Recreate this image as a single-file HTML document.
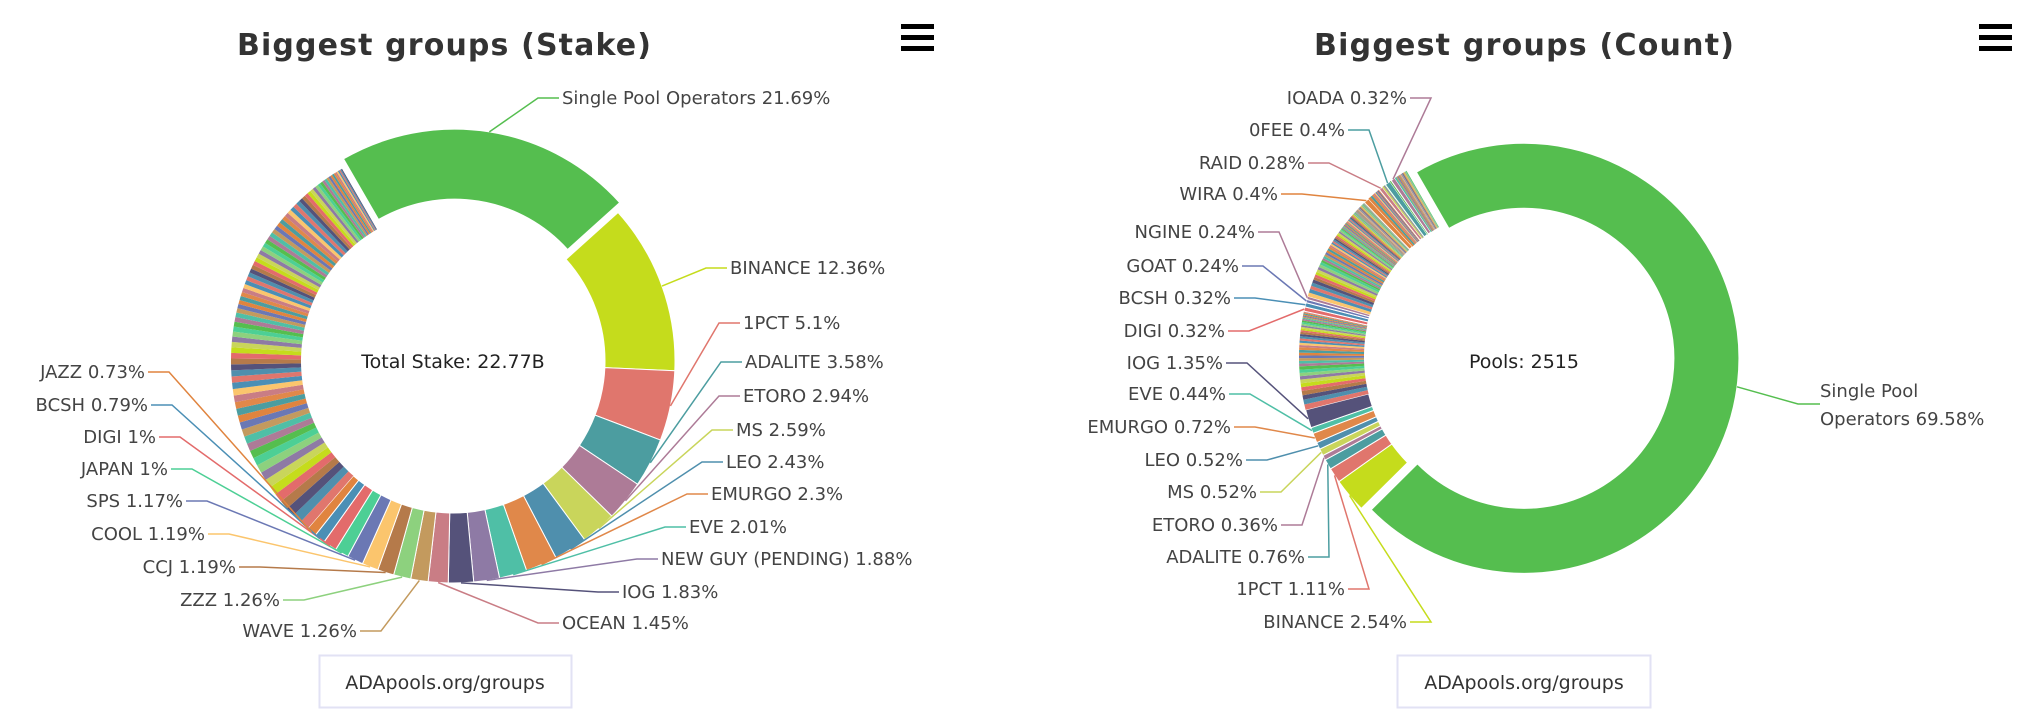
<!DOCTYPE html>
<html><head><meta charset="utf-8"><style>
html,body{margin:0;padding:0;background:#fff;}
svg{display:block;font-family:"DejaVu Sans","Liberation Sans",sans-serif;}
</style></head><body>
<svg id="s" width="2038" height="726" viewBox="0 0 2038 726" xmlns="http://www.w3.org/2000/svg">
<g>
<text x="444" y="55" text-anchor="middle" font-size="30" font-weight="bold" fill="#333" textLength="414">Biggest groups (Stake)</text>
<g><rect x="901" y="24" width="33" height="5" fill="#000"/><rect x="901" y="35" width="33" height="5" fill="#000"/><rect x="901" y="46" width="33" height="5" fill="#000"/></g>
<text x="453" y="368" text-anchor="middle" font-size="19" fill="#222">Total Stake: 22.77B</text>
<rect x="319.5" y="655.5" width="252" height="52" fill="#fff" stroke="#e2e2f4" stroke-width="2"/>
<text x="445" y="689" text-anchor="middle" font-size="19" fill="#333">ADApools.org/groups</text>
</g>
<g>
<text x="1524" y="55" text-anchor="middle" font-size="30" font-weight="bold" fill="#333" textLength="420">Biggest groups (Count)</text>
<g><rect x="1979" y="24" width="33" height="5" fill="#000"/><rect x="1979" y="35" width="33" height="5" fill="#000"/><rect x="1979" y="46" width="33" height="5" fill="#000"/></g>
<text x="1524" y="368" text-anchor="middle" font-size="19" fill="#222">Pools: 2515</text>
<rect x="1397.5" y="655.5" width="253" height="52" fill="#fff" stroke="#e2e2f4" stroke-width="2"/>
<text x="1524" y="689" text-anchor="middle" font-size="19" fill="#333">ADApools.org/groups</text>
</g>
</svg>
<script>
// ---- Stake chart data ----
const stakeNames = ["Single Pool Operators","BINANCE","1PCT","ADALITE","ETORO","MS","LEO","EMURGO","EVE","NEW GUY (PENDING)","IOG","OCEAN","WAVE","ZZZ","CCJ","COOL","SPS","JAPAN","DIGI","BCSH","JAZZ"];
const stakeValues = [21.69,12.36,5.1,3.58,2.94,2.59,2.43,2.3,2.01,1.88,1.83,1.45,1.26,1.26,1.19,1.19,1.17,1,1,0.79,0.73];
const stakeOthers = [0.7,0.69,0.68,0.66,0.65,0.63,0.62,0.61,0.6,0.58,0.57,0.56,0.55,0.54,0.52,0.51,0.5,0.49,0.48,0.47,0.46,0.45,0.44,0.43,0.42,0.41,0.4,0.39,0.38,0.37,0.36,0.35,0.34,0.33,0.32,0.31,0.3,0.3,0.3,0.3,0.3,0.3,0.3,0.3,0.3,0.3,0.3,0.3,0.3,0.3,0.3,0.3,0.3,0.3,0.3,0.3,0.3,0.3,0.3,0.3,0.3,0.3,0.3,0.3,0.29,0.28,0.27,0.26,0.25,0.24,0.23,0.22,0.21,0.2,0.19,0.18,0.17,0.16,0.15,0.14,0.13,0.12,0.11,0.1,0.09,0.08,0.07];
// ---- Count chart data ----
const countNamesA = ["Single Pool Operators","BINANCE","1PCT","ADALITE","ETORO","MS","LEO","EMURGO","EVE","IOG"];
const countValuesA = [69.58,2.54,1.11,0.76,0.36,0.52,0.52,0.72,0.44,1.35];
const countOthersA = [0.4,0.36,0.32,0.32,0.28,0.28,0.28,0.24,0.24,0.24,0.24,0.2,0.2,0.2,0.2,0.2,0.2,0.2,0.16,0.16,0.16,0.16,0.16,0.16,0.16,0.12,0.12,0.12,0.12,0.12,0.12,0.12,0.12,0.08,0.08,0.08,0.08,0.08,0.08,0.08];
const countNamesB = ["DIGI","BCSH","GOAT","NGINE"];
const countValuesB = [0.32,0.32,0.24,0.24];
const countOthersB = [0.28,0.28,0.24,0.24,0.24,0.2,0.2,0.2,0.2,0.2,0.2,0.2,0.16,0.16,0.16,0.16,0.16,0.16,0.16,0.16,0.12,0.12,0.12,0.12,0.12,0.12,0.12,0.12,0.12,0.12,0.12,0.12,0.08,0.08,0.08,0.08,0.08,0.08,0.08,0.08,0.08,0.08,0.08,0.08,0.08,0.08,0.08,0.08,0.08,0.08,0.04,0.04,0.04,0.04,0.04,0.04,0.04,0.04,0.04,0.04,0.04,0.04,0.04,0.04,0.04,0.04,0.04,0.04,0.04,0.04,0.04,0.04,0.04,0.04,0.04,0.04,0.04,0.04,0.04,0.04];
const countNamesC = ["WIRA"];
const countValuesC = [0.4];
const countOthersC = [0.2,0.16,0.12,0.12,0.08,0.08,0.08,0.04,0.04,0.04,0.04,0.04];
const countNamesD = ["RAID"];
const countValuesD = [0.28];
const countOthersD = [0.12,0.08,0.04,0.04];
const countNamesE = ["0FEE"];
const countValuesE = [0.4];
const countOthersE = [0.08,0.04];
const countNamesF = ["IOADA"];
const countValuesF = [0.32];
const countOthersF = [0.12,0.08,0.08,0.08,0.04,0.04,0.04,0.04,0.04,0.04,0.04,0.04,0.04,0.04,0.04,0.04,0.04,0.04,0.04,0.04];

const palette = ["#55be4f","#c5dc1c","#e0766d","#4c9da0","#ad7b97","#c9d55b","#4f8fad","#e0884a","#4fbfa6","#8e7aa5","#55527a","#c97d85","#c39a5e","#8dd17e","#b57a4a","#fbc56d","#6b78b4","#4dcf95","#e36b6b","#4b8fb5","#e0843f"];
const countColors = {"Single Pool Operators":"#55be4f","BINANCE":"#c5dc1c","1PCT":"#e0766d","ADALITE":"#4c9da0","ETORO":"#ad7b97","MS":"#c9d55b","LEO":"#4f8fad","EMURGO":"#e0884a","EVE":"#4fbfa6","IOG":"#55527a","DIGI":"#e36b6b","BCSH":"#4b8fb5","GOAT":"#6b78b4","NGINE":"#ad7b97","WIRA":"#e0843f","RAID":"#c97d85","0FEE":"#4c9da0","IOADA":"#ad7b97"};

// label layout (pixel positions, not data)
const stakeLabelPos = {"Single Pool Operators":[562,104,"s"],"BINANCE":[730,274,"s"],"1PCT":[743,329,"s"],"ADALITE":[745,368,"s"],"ETORO":[743,402,"s"],"MS":[736,436,"s"],"LEO":[726,468,"s"],"EMURGO":[711,500,"s"],"EVE":[689,533,"s"],"NEW GUY (PENDING)":[661,565,"s"],"IOG":[622,598,"s"],"OCEAN":[562,629,"s"],"WAVE":[357,637,"e"],"ZZZ":[280,606,"e"],"CCJ":[236,573,"e"],"COOL":[205,540,"e"],"SPS":[183,507,"e"],"JAPAN":[168,475,"e"],"DIGI":[156,443,"e"],"BCSH":[148,411,"e"],"JAZZ":[145,378,"e"]};
const countLabelPos = {"IOADA":[1407,104,"e"],"0FEE":[1345,136,"e"],"RAID":[1305,169,"e"],"WIRA":[1278,200,"e"],"NGINE":[1255,238,"e"],"GOAT":[1239,272,"e"],"BCSH":[1231,304,"e"],"DIGI":[1225,337,"e"],"IOG":[1223,369,"e"],"EVE":[1226,400,"e"],"EMURGO":[1231,433,"e"],"LEO":[1243,466,"e"],"MS":[1257,498,"e"],"ETORO":[1278,531,"e"],"ADALITE":[1305,563,"e"],"1PCT":[1345,595,"e"],"BINANCE":[1407,628,"e"]};

const NS="http://www.w3.org/2000/svg";
const svg=document.getElementById('s');
function pt(cx,cy,rad,a){const t=a*Math.PI/180;return [cx+rad*Math.sin(t),cy-rad*Math.cos(t)];}
function arcPath(cx,cy,R,r,a0,a1){
  const p0=pt(cx,cy,R,a0),p1=pt(cx,cy,R,a1),p2=pt(cx,cy,r,a1),p3=pt(cx,cy,r,a0);
  const lg=(a1-a0)>180?1:0;
  return `M${p0[0]},${p0[1]}A${R},${R} 0 ${lg} 1 ${p1[0]},${p1[1]}L${p2[0]},${p2[1]}A${r},${r} 0 ${lg} 0 ${p3[0]},${p3[1]}Z`;
}
function fmt(v){return String(v);}
function drawPie(items,cx,cy,R,r,start,slicedName,labelPos,prefix,wrapSingle){
  const total=items.reduce((s,d)=>s+d.v,0);
  const g=document.createElementNS(NS,'g');
  
  
  svg.appendChild(g);
  let a=start;
  items.forEach((d,i)=>{
    const span=d.v/total*360;
    const a0=a,a1=a+span,mid=a+span/2;a=a1;
    let ox=cx,oy=cy;
    if(d.name===slicedName){const o=pt(0,0,10,mid);ox=cx+o[0];oy=cy+o[1];}
    const p=document.createElementNS(NS,'path');
    p.setAttribute('d',arcPath(ox,oy,R,r,a0,a1));
    p.setAttribute('fill',d.c);
    if(d.name){p.setAttribute('stroke','#fff');p.setAttribute('stroke-width',1);}
    
    
    g.appendChild(p);
    if(d.name && labelPos[d.name]){
      const lp=labelPos[d.name];
      const sp=pt(ox,oy,R,mid);
      const dir=lp[2]==='s'?-1:1;
      const l=document.createElementNS(NS,'polyline');
      l.setAttribute('points',`${sp[0]},${sp[1]} ${lp[0]+dir*24},${lp[1]-6} ${lp[0]+dir*3},${lp[1]-6}`);
      l.setAttribute('fill','none');l.setAttribute('stroke',d.c);l.setAttribute('stroke-width',1.5);
      
      
      svg.appendChild(l);
      const t=document.createElementNS(NS,'text');
      t.setAttribute('x',lp[0]);t.setAttribute('y',lp[1]);
      t.setAttribute('text-anchor',lp[2]==='s'?'start':'end');
      t.setAttribute('font-size','18');t.setAttribute('fill','#444');
      t.textContent=d.name+' '+fmt(d.v)+'%';
      
      
      svg.appendChild(t);
    } else if(d.name && wrapSingle && d.name==="Single Pool Operators"){
      const sp=pt(ox,oy,R,mid);
      const l=document.createElementNS(NS,'polyline');
      l.setAttribute('points',`${sp[0]},${sp[1]} ${1798},${404} ${1820},${404}`);
      l.setAttribute('fill','none');l.setAttribute('stroke',d.c);l.setAttribute('stroke-width',1.5);
      
      
      svg.appendChild(l);
      const t=document.createElementNS(NS,'text');
      t.setAttribute('x',1820);t.setAttribute('y',397);t.setAttribute('font-size','18');t.setAttribute('fill','#444');
      
      
      const t1=document.createElementNS(NS,'tspan');t1.setAttribute('x',1820);t1.textContent='Single Pool';
      const t2=document.createElementNS(NS,'tspan');t2.setAttribute('x',1820);t2.setAttribute('dy','28');t2.textContent='Operators '+fmt(d.v)+'%';
      t.appendChild(t1);t.appendChild(t2);svg.appendChild(t);
    }
  });
}
// build stake items
const stakeItems=[];
stakeNames.forEach((n,i)=>stakeItems.push({name:n,v:stakeValues[i],c:palette[i%palette.length]}));
stakeOthers.forEach((v,i)=>stakeItems.push({name:null,v:v,c:palette[(i*4+2)%palette.length]}));
drawPie(stakeItems,453,361,222,152,-30,"Single Pool Operators",stakeLabelPos,'stake',false);
// build count items
const countItems=[];let ci=0;
function addNamed(names,vals){names.forEach((n,i)=>countItems.push({name:n,v:vals[i],c:countColors[n]}));}
function addOthers(vals){vals.forEach(v=>{countItems.push({name:null,v:v,c:palette[(ci*4+2)%palette.length]});ci++;});}
addNamed(countNamesA,countValuesA);addOthers(countOthersA);
addNamed(countNamesB,countValuesB);addOthers(countOthersB);
addNamed(countNamesC,countValuesC);addOthers(countOthersC);
addNamed(countNamesD,countValuesD);addOthers(countOthersD);
addNamed(countNamesE,countValuesE);addOthers(countOthersE);
addNamed(countNamesF,countValuesF);addOthers(countOthersF);
drawPie(countItems,1514,357,215,150,-30,"Single Pool Operators",countLabelPos,'count',true);
</script>
</body></html>
